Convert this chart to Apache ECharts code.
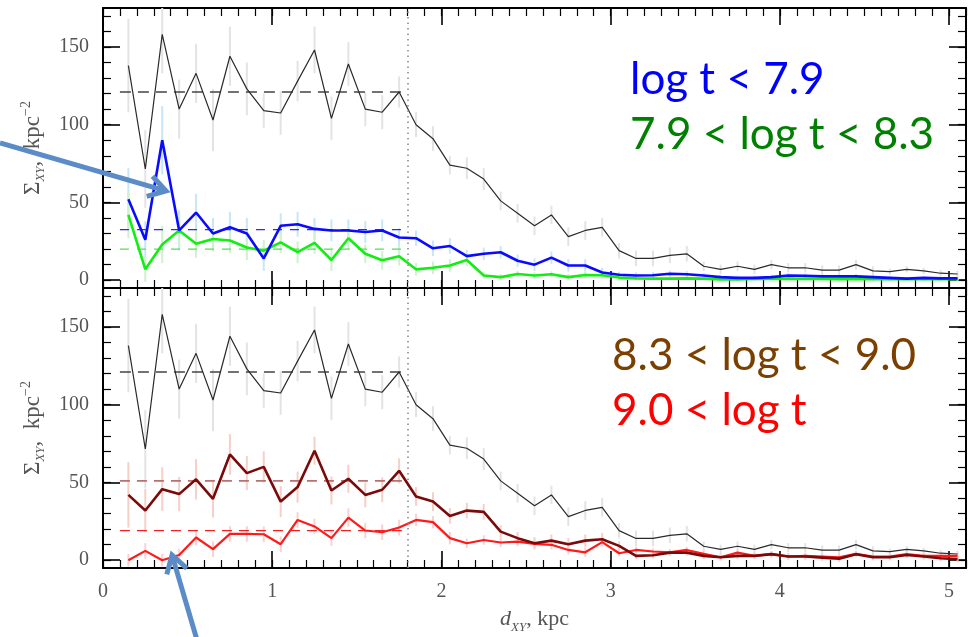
<!DOCTYPE html>
<html><head><meta charset="utf-8">
<script src="https://cdn.jsdelivr.net/npm/echarts@6/dist/echarts.min.js"></script>
<style>html,body{margin:0;padding:0;background:#fff}#c{width:976px;height:637px}</style>
</head><body><div id="c"></div>
<script>
// ---- data (d_XY in kpc, Sigma in kpc^-2) ----
const xValues = [0.15,0.25,0.35,0.45,0.55,0.65,0.75,0.85,0.95,1.05,1.15,1.25,1.35,1.45,1.55,1.65,1.75,1.85,1.95,2.05,2.15,2.25,2.35,2.45,2.55,2.65,2.75,2.85,2.95,3.05,3.15,3.25,3.35,3.45,3.55,3.65,3.75,3.85,3.95,4.05,4.15,4.25,4.35,4.45,4.55,4.65,4.75,4.85,4.95,5.05];
const totalValues = [138,71.5,158,110,133,103,144,123,109,107.5,128,148,104,139,110,108,121,100,91,74,72,65,51,43,35,42,28,32,34,19,14,14,16,17,9,7,9,7,10,8,8,6.5,6.5,10,6,5.5,7,6,4.5,4];
const totalErrors = [30,25,25,19,19,20,19,17,11,14,13,15,14,14,11,11,10,8,8,6,7,7,6,6,6,6,6,6,6,5,5,5,5,5,3,3,3,3,3,3,3,3,3,3,3,2,2,2,2,2];
const youngValues = [52,26,90,32,43.5,30,34,30,14,35,36,33,32,32,31,32,27.5,27,20.5,22,15.5,17,18,12.5,10,14.5,9.5,9.5,5,3.5,3,3.2,4.2,3.8,3,2,1.5,1.5,2,3,2.8,2.5,2.5,2.5,2,1.5,1,1.5,1.2,1.2];
const youngErrors = [20,12,22,13,12,10,10,10,8,8,8,7,7,7,7,7,6,5,5,5,4,4,4,4,4,4,4,4,3,2,2,2,2,2,1.5,1.5,1.5,1.5,1.5,1.5,1.5,1.5,1.5,1.5,1.5,1,1,1,1,1];
const midValues = [42,7,23,32,23.5,26.5,25.5,21,19,24.3,18,24,13,27,17,12.8,15.4,7,8,9.5,13,3,2,4,3,3.8,2,3.4,3.2,1.7,1.2,1,1,1.2,1,0.5,0.5,0.8,0.8,1,0.8,0.8,0.7,0.8,0.7,0.6,0.8,0.7,0.6,0.6];
const midErrors = [15,8,12,10,9,8,8,8,7,7,7,7,7,7,6,6,6,4,4,4,4,2,2,2,2,2,2,2,2,1.5,1,1,1,1,1,1,1,1,1,1,1,1,1,1,1,1,1,1,1,1];
const oldValues = [42,32,45.7,42.5,52,39.5,68,56,60,37.7,47,70.4,44.8,52.4,42,45.3,57.5,41,37.7,28.5,31.9,31.1,18.4,14.2,10.9,12.6,10.3,12.6,13.5,9.2,2.8,3.2,4.9,4.9,2.8,1.9,2.8,2.8,3.9,2.4,2.4,1.7,1,3.9,1.9,1.9,3.4,2.4,1.3,0.7];
const oldErrors = [21,14,14,11,13,12,13,11,10,10,10,9,9,9,8,8,8,6,6,5,5,5,4,4,4,4,4,4,4,3,2,2,2,2,2,2,2,2,2,2,2,2,2,2,2,2,2,2,2,2];
const oldestValues = [0,6,0,3.4,14.6,7.1,16.9,16.9,16.7,10.3,25.9,21.7,14.2,27.4,19.1,18,21,25.9,24.5,14.2,10.9,13,11.4,12,10.5,9.9,6.6,5.1,11.6,4.5,6.6,5.6,5.1,6.6,4.1,1.9,4.9,2.8,3.9,2.4,2.8,2.4,1.9,4.1,2.4,2.4,3.9,2.8,2.8,2.8];
const oldestErrors = [4,5,4,4,5,5,5,5,5,5,5,5,5,6,5,5,5,4,4,4,3,3,3,3,3,3,3,3,3,2,2,2,2,2,2,2,2,2,2,2,2,2,2,2,2,2,2,2,2,2];
// mean levels inside the dashed range
const meanRange = [0.1, 1.78];
const totalMean = 121;
const youngMean = 32.5;
const midMean = 20;
const oldMean = 51;
const oldestMean = 19;
const splitRadius = 1.8;
// tick positions
const xMajorTicks = [0,1,2,3,4,5];
const xMinorTicks = [0,0.1,0.2,0.3,0.4,0.5,0.6,0.7,0.8,0.9,1,1.1,1.2,1.3,1.4,1.5,1.6,1.7,1.8,1.9,2,2.1,2.2,2.3,2.4,2.5,2.6,2.7,2.8,2.9,3,3.1,3.2,3.3,3.4,3.5,3.6,3.7,3.8,3.9,4,4.1,4.2,4.3,4.4,4.5,4.6,4.7,4.8,4.9,5,5.1];
const yMajorTicks = [0,50,100,150];
const yMinorTicks = [0,10,20,30,40,50,60,70,80,90,100,110,120,130,140,150,160,170];
const legendTop = ['log t < 7.9', '7.9 < log t < 8.3'];
const legendBottom = ['8.3 < log t < 9.0', '9.0 < log t'];

const SERIF = '"Liberation Serif", "DejaVu Serif", serif';
const LABEL_COLOR = '#555';

function makeAxes(g, showXLabels, withNames) {
  const base = {type:'value', gridIndex:g, min:0, max:5.1, splitLine:{show:false}};
  const ybase = {type:'value', gridIndex:g, min:-5, max:175, splitLine:{show:false}};
  const lineOn = {show:true, onZero:false, lineStyle:{color:'#000', width:2}};
  const lineOff = {show:false, onZero:false};
  const xs = [
    Object.assign({}, base, {position:'bottom', axisLine:lineOn,
      axisTick:{show:true, inside:true, length:17, customValues:xMajorTicks, lineStyle:{color:'#000', width:1.6}},
      axisLabel:{show:showXLabels, customValues:xMajorTicks, color:LABEL_COLOR, fontFamily:SERIF, fontSize:20, margin:14},
      name: withNames ? '{i|d}{s|XY}{n|, kpc}' : '', nameLocation:'middle', nameGap:40,
      nameTextStyle:{rich:{
        i:{fontFamily:SERIF, fontStyle:'italic', fontSize:22, color:LABEL_COLOR, lineHeight:26, verticalAlign:'top'},
        s:{fontFamily:SERIF, fontStyle:'italic', fontSize:13, color:LABEL_COLOR, lineHeight:26, verticalAlign:'bottom'},
        n:{fontFamily:SERIF, fontSize:22, color:LABEL_COLOR, lineHeight:26, verticalAlign:'top'}}}}),
    Object.assign({}, base, {position:'bottom', axisLine:lineOff,
      axisTick:{show:true, inside:true, length:8, customValues:xMinorTicks, lineStyle:{color:'#000', width:1.2}},
      axisLabel:{show:false}}),
    Object.assign({}, base, {position:'top', axisLine:lineOn,
      axisTick:{show:true, inside:true, length:17, customValues:xMajorTicks, lineStyle:{color:'#000', width:1.6}},
      axisLabel:{show:false}}),
    Object.assign({}, base, {position:'top', axisLine:lineOff,
      axisTick:{show:true, inside:true, length:8, customValues:xMinorTicks, lineStyle:{color:'#000', width:1.2}},
      axisLabel:{show:false}})
  ];
  const ys = [
    Object.assign({}, ybase, {position:'left', axisLine:lineOn,
      axisTick:{show:true, inside:true, length:17, customValues:yMajorTicks, lineStyle:{color:'#000', width:1.6}},
      axisLabel:{show:true, customValues:yMajorTicks, color:LABEL_COLOR, fontFamily:SERIF, fontSize:20, margin:14},
      name:'{s|Σ}{i|XY}{n|,  kpc}{p|−2}', nameLocation:'middle', nameGap:56, nameRotate:90,
      nameTextStyle:{rich:{
        s:{fontFamily:SERIF, fontSize:23, color:LABEL_COLOR, lineHeight:28, verticalAlign:'middle'},
        i:{fontFamily:SERIF, fontStyle:'italic', fontSize:13, color:LABEL_COLOR, lineHeight:28, verticalAlign:'bottom'},
        n:{fontFamily:SERIF, fontSize:23, color:LABEL_COLOR, lineHeight:28, verticalAlign:'middle'},
        p:{fontFamily:SERIF, fontSize:14, color:LABEL_COLOR, lineHeight:28, verticalAlign:'top'}}}}),
    Object.assign({}, ybase, {position:'left', axisLine:lineOff,
      axisTick:{show:true, inside:true, length:8, customValues:yMinorTicks, lineStyle:{color:'#000', width:1.2}},
      axisLabel:{show:false}}),
    Object.assign({}, ybase, {position:'right', axisLine:lineOn,
      axisTick:{show:true, inside:true, length:17, customValues:yMajorTicks, lineStyle:{color:'#000', width:1.6}},
      axisLabel:{show:false}}),
    Object.assign({}, ybase, {position:'right', axisLine:lineOff,
      axisTick:{show:true, inside:true, length:8, customValues:yMinorTicks, lineStyle:{color:'#000', width:1.2}},
      axisLabel:{show:false}})
  ];
  return {xs, ys};
}

const a0 = makeAxes(0, false, false);
const a1 = makeAxes(1, true, true);

function errSeries(axisIdx, vals, errs, color) {
  return {
    type:'custom', xAxisIndex:axisIdx, yAxisIndex:axisIdx, z:1, silent:true, clip:true,
    data: xValues.map((x,i)=>[x, vals[i]-errs[i], vals[i]+errs[i]]),
    renderItem: function(params, api) {
      const p1 = api.coord([api.value(0), api.value(1)]);
      const p2 = api.coord([api.value(0), api.value(2)]);
      return {type:'line', shape:{x1:p1[0], y1:p1[1], x2:p2[0], y2:p2[1]}, style:{stroke:color, lineWidth:2}};
    }
  };
}
function lineSeries(axisIdx, vals, color, width, z) {
  return {
    type:'line', xAxisIndex:axisIdx, yAxisIndex:axisIdx, z:z, silent:true, showSymbol:false, symbol:'none',
    data: xValues.map((x,i)=>[x, vals[i]]),
    lineStyle:{color:color, width:width}, clip:true
  };
}
function meanSeries(axisIdx, level, color, width, dash) {
  return {
    type:'line', xAxisIndex:axisIdx, yAxisIndex:axisIdx, z:2, silent:true, showSymbol:false, symbol:'none',
    data: [[meanRange[0], level],[meanRange[1], level]],
    lineStyle:{color:color, width:width, type:dash}
  };
}
function dividerSeries(axisIdx) {
  return {
    type:'line', xAxisIndex:axisIdx, yAxisIndex:axisIdx, data:[], silent:true,
    markLine:{silent:true, symbol:'none', label:{show:false},
      lineStyle:{color:'#888', type:[1.5,4], width:1.5}, data:[{xAxis:splitRadius}]}
  };
}

const series = [
  // top panel (axes 0)
  dividerSeries(0),
  errSeries(0, totalValues, totalErrors, '#e3e3e3'),
  errSeries(0, youngValues, youngErrors, '#c7e6f7'),
  errSeries(0, midValues, midErrors, '#cdf2cd'),
  meanSeries(0, totalMean, '#444', 1.6, [11,7]),
  meanSeries(0, youngMean, '#2b2bff', 1.2, [9,8]),
  meanSeries(0, midMean, '#55e055', 1.2, [9,8]),
  lineSeries(0, totalValues, '#2a2a2a', 1.2, 3),
  lineSeries(0, midValues, '#11ee11', 2.6, 4),
  lineSeries(0, youngValues, '#0a0aff', 2.6, 5),
  // bottom panel (axes 4)
  dividerSeries(4),
  errSeries(4, totalValues, totalErrors, '#e3e3e3'),
  errSeries(4, oldValues, oldErrors, '#f6cfc6'),
  errSeries(4, oldestValues, oldestErrors, '#fbd0d0'),
  meanSeries(4, totalMean, '#444', 1.6, [11,7]),
  meanSeries(4, oldMean, '#b87070', 1.6, [10,7]),
  meanSeries(4, oldestMean, '#ee2222', 1.2, [10,7]),
  lineSeries(4, totalValues, '#2a2a2a', 1.2, 3),
  lineSeries(4, oldestValues, '#ff1a1a', 2.2, 4),
  lineSeries(4, oldValues, '#7a0a0a', 2.6, 5)
];

const LEG_FONT = 'Lato, "Open Sans", sans-serif';
function arrow(x1, y1, x2, y2, color) {
  const ang = Math.atan2(y2 - y1, x2 - x1);
  const L = 20, sp = 0.55;
  const h1 = [x2 - L*Math.cos(ang - sp), y2 - L*Math.sin(ang - sp)];
  const h2 = [x2 - L*Math.cos(ang + sp), y2 - L*Math.sin(ang + sp)];
  return [
    {type:'line', shape:{x1:x1, y1:y1, x2:x2 - 3*Math.cos(ang), y2:y2 - 3*Math.sin(ang)}, style:{stroke:color, lineWidth:5}, z:100},
    {type:'polyline', shape:{points:[h1, [x2, y2], h2]}, style:{stroke:color, lineWidth:5, fill:null, lineJoin:'miter'}, z:100}
  ];
}

const graphics = [
  {type:'text', left:630, top:58, style:{text:legendTop[0], fill:'#0000ff', font:'44px ' + LEG_FONT}, z:50},
  {type:'text', left:630, top:113, style:{text:legendTop[1], fill:'#008000', font:'44px ' + LEG_FONT}, z:50},
  {type:'text', left:612, top:334, style:{text:legendBottom[0], fill:'#7b3f00', font:'44px ' + LEG_FONT}, z:50},
  {type:'text', left:612, top:389, style:{text:legendBottom[1], fill:'#ff0000', font:'44px ' + LEG_FONT}, z:50}
].concat(arrow(0, 143, 166, 191, '#5b8cc8'), arrow(197, 640, 172, 555, '#5b8cc8'));

const chart = echarts.init(document.getElementById('c'), null, {renderer:'canvas'});
chart.setOption({
  animation:false,
  backgroundColor:'#fff',
  grid:[
    {left:103, right:10, top:8, height:280, containLabel:false},
    {left:103, right:10, top:288, height:280, containLabel:false}
  ],
  xAxis: a0.xs.concat(a1.xs),
  yAxis: a0.ys.concat(a1.ys),
  series: series,
  graphic: graphics
});
</script>
</body></html>
